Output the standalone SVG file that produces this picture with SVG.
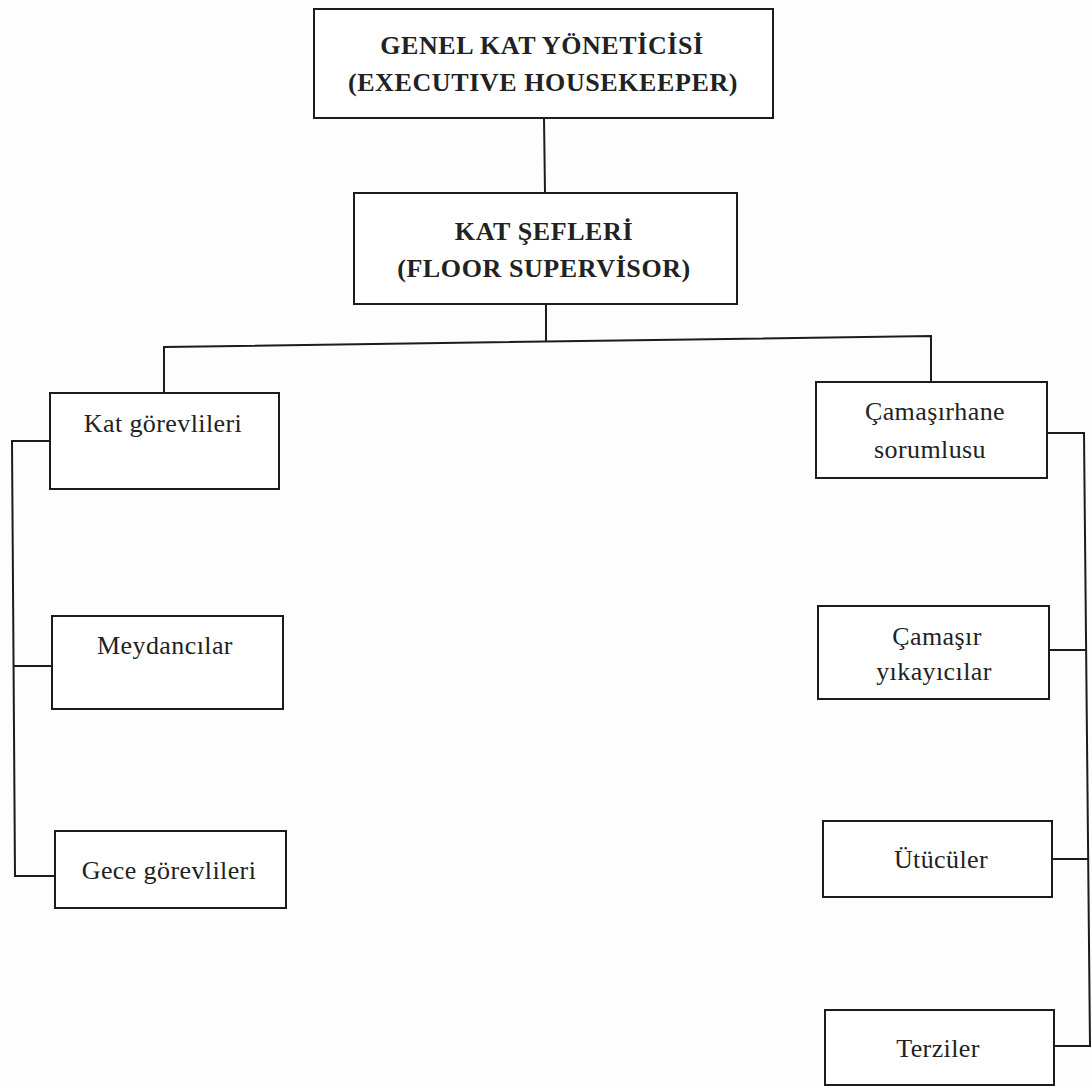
<svg xmlns="http://www.w3.org/2000/svg" width="1092" height="1087" viewBox="0 0 1092 1087">
<style>
.box{fill:#fff;stroke:#1c1c1c;stroke-width:2}
.conn{fill:none;stroke:#1c1c1c;stroke-width:2;stroke-linejoin:miter}
.t{font-family:"Liberation Serif","Times New Roman",serif;font-size:26px;fill:#222;text-anchor:middle;letter-spacing:0.4px}
.b{font-weight:bold;letter-spacing:0.6px}
</style>
<rect width="1092" height="1087" fill="#fdfdfd"/>
<g id="connectors">
<polyline class="conn" points="544,118 545,193"/>
<polyline class="conn" points="546,304 546,342"/>
<polyline class="conn" points="164,393 164,347 931,336 931,382"/>
<polyline class="conn" points="50,441 12,441 15,876 55,876"/>
<line class="conn" x1="14" y1="666" x2="52" y2="666"/>
<polyline class="conn" points="1047,433 1084,433 1090,1046 1054,1046"/>
<line class="conn" x1="1049" y1="650" x2="1086" y2="650"/>
<line class="conn" x1="1052" y1="859" x2="1088" y2="859"/>
</g>
<g id="genel-kat-yoneticisi">
<rect class="box" x="314" y="9" width="459" height="109"/>
<text class="t b" x="542" y="54">GENEL KAT YÖNETİCİSİ</text>
<text class="t b" x="543" y="91">(EXECUTIVE HOUSEKEEPER)</text>
</g>
<g id="kat-sefleri">
<rect class="box" x="354" y="193" width="383" height="111"/>
<text class="t b" x="544" y="240">KAT ŞEFLERİ</text>
<text class="t b" x="544" y="277">(FLOOR SUPERVİSOR)</text>
</g>
<g id="kat-gorevlileri">
<rect class="box" x="50" y="393" width="229" height="96"/>
<text class="t" x="163" y="432">Kat görevlileri</text>
</g>
<g id="meydancilar">
<rect class="box" x="52" y="616" width="231" height="93"/>
<text class="t" x="165" y="654">Meydancılar</text>
</g>
<g id="gece-gorevlileri">
<rect class="box" x="55" y="831" width="231" height="77"/>
<text class="t" x="169" y="879">Gece görevlileri</text>
</g>
<g id="camasirhane-sorumlusu">
<rect class="box" x="816" y="382" width="231" height="96"/>
<text class="t" x="935" y="420">Çamaşırhane</text>
<text class="t" x="930" y="458">sorumlusu</text>
</g>
<g id="camasir-yikayicilar">
<rect class="box" x="818" y="606" width="231" height="93"/>
<text class="t" x="937" y="645">Çamaşır</text>
<text class="t" x="934" y="680">yıkayıcılar</text>
</g>
<g id="utuculer">
<rect class="box" x="823" y="821" width="229" height="76"/>
<text class="t" x="941" y="868">Ütücüler</text>
</g>
<g id="terziler">
<rect class="box" x="825" y="1010" width="229" height="75"/>
<text class="t" x="938" y="1057">Terziler</text>
</g>
</svg>
